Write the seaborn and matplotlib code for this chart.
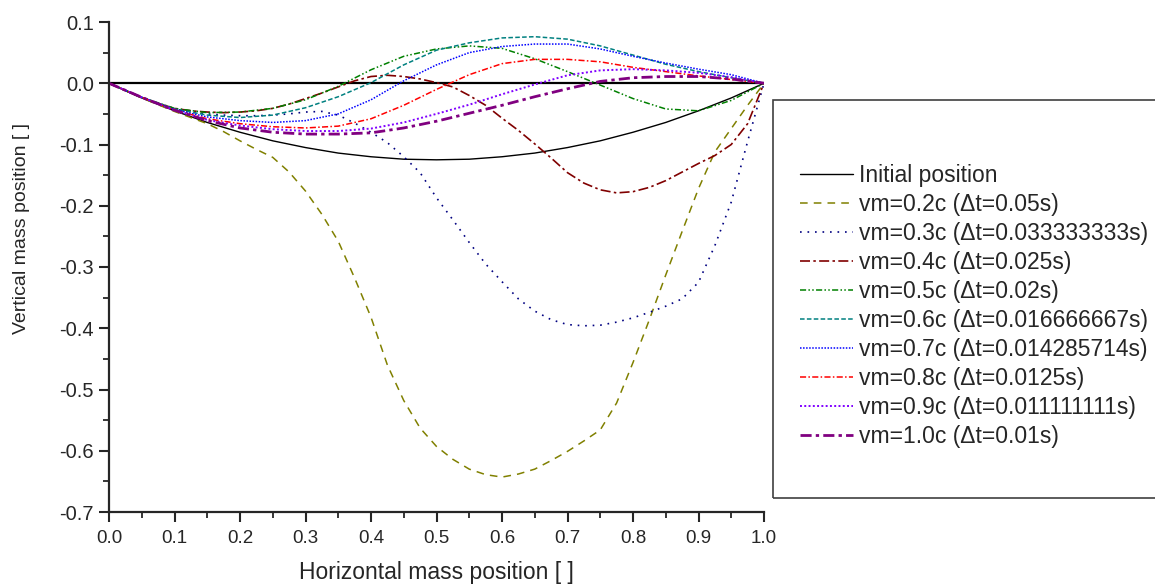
import numpy as np
import pandas as pd
import matplotlib
matplotlib.use("Agg")
import matplotlib.pyplot as plt
from matplotlib.patches import Rectangle
from matplotlib.ticker import MultipleLocator
import seaborn as sns

# ---------------- data ----------------
x_coarse = [0.00, 0.05, 0.10, 0.15, 0.20, 0.25, 0.30, 0.35, 0.40, 0.45, 0.50,
            0.55, 0.60, 0.65, 0.70, 0.75, 0.80, 0.85, 0.90, 0.95, 1.00]
x_fine = [0.000, 0.025, 0.050, 0.075, 0.100, 0.125, 0.150, 0.175, 0.200, 0.225,
          0.250, 0.275, 0.300, 0.325, 0.350, 0.375, 0.400, 0.425, 0.450, 0.475,
          0.500, 0.525, 0.550, 0.575, 0.600, 0.625, 0.650, 0.675, 0.700, 0.725,
          0.750, 0.775, 0.800, 0.825, 0.850, 0.875, 0.900, 0.925, 0.950, 0.975, 1.000]

y_initial = [0, -0.024, -0.045, -0.064, -0.080, -0.094, -0.105, -0.114, -0.120, -0.124, -0.125,
             -0.124, -0.120, -0.114, -0.105, -0.094, -0.080, -0.064, -0.045, -0.024, 0]

y_02 = [0, -0.012, -0.024, -0.035, -0.046, -0.056, -0.066, -0.079, -0.094, -0.108,
        -0.121, -0.145, -0.176, -0.214, -0.258, -0.318, -0.382, -0.460, -0.518, -0.563,
        -0.593, -0.614, -0.630, -0.639, -0.643, -0.638, -0.630, -0.616, -0.601, -0.584,
        -0.566, -0.522, -0.456, -0.386, -0.313, -0.242, -0.172, -0.112, -0.074, -0.036, 0]

y_03 = [0, -0.012, -0.023, -0.033, -0.042, -0.047, -0.050, -0.052, -0.053, -0.053,
        -0.052, -0.050, -0.047, -0.046, -0.052, -0.065, -0.080, -0.097, -0.120, -0.146,
        -0.187, -0.223, -0.260, -0.295, -0.324, -0.352, -0.372, -0.386, -0.394, -0.396,
        -0.395, -0.390, -0.383, -0.374, -0.364, -0.352, -0.325, -0.265, -0.194, -0.095, 0]

y_04 = [0, -0.012, -0.023, -0.033, -0.041, -0.045, -0.047, -0.048, -0.047, -0.045,
        -0.041, -0.034, -0.025, -0.016, -0.006, 0.004, 0.011, 0.013, 0.011, 0.007,
        0.001, -0.006, -0.020, -0.036, -0.057, -0.077, -0.099, -0.122, -0.146, -0.163,
        -0.174, -0.179, -0.177, -0.170, -0.159, -0.145, -0.131, -0.118, -0.100, -0.066, 0]

y_05 = [0, -0.023, -0.041, -0.048, -0.047, -0.041, -0.027, -0.005, 0.022, 0.044, 0.056,
        0.061, 0.057, 0.040, 0.019, -0.003, -0.025, -0.042, -0.045, -0.028, 0]

y_06 = [0, -0.023, -0.042, -0.052, -0.056, -0.052, -0.040, -0.022, 0.001, 0.030, 0.054,
        0.066, 0.074, 0.076, 0.072, 0.061, 0.046, 0.031, 0.019, 0.009, 0]

y_07 = [0, -0.023, -0.043, -0.055, -0.061, -0.064, -0.061, -0.050, -0.027, 0.004, 0.030,
        0.050, 0.060, 0.064, 0.064, 0.056, 0.044, 0.033, 0.023, 0.014, 0]

y_08 = [0, -0.023, -0.044, -0.058, -0.066, -0.071, -0.073, -0.070, -0.058, -0.036, -0.010,
        0.014, 0.032, 0.039, 0.039, 0.035, 0.026, 0.019, 0.012, 0.006, 0]

y_09 = [0, -0.023, -0.044, -0.060, -0.069, -0.075, -0.078, -0.078, -0.074, -0.064, -0.050,
        -0.035, -0.018, -0.002, 0.013, 0.021, 0.023, 0.021, 0.017, 0.010, 0]

y_10 = [0, -0.023, -0.044, -0.061, -0.073, -0.080, -0.083, -0.083, -0.081, -0.073, -0.062,
        -0.049, -0.036, -0.022, -0.009, 0.003, 0.009, 0.011, 0.011, 0.007, 0]

labels = ["Initial position",
          "vm=0.2c (\u0394t=0.05s)",
          "vm=0.3c (\u0394t=0.033333333s)",
          "vm=0.4c (\u0394t=0.025s)",
          "vm=0.5c (\u0394t=0.02s)",
          "vm=0.6c (\u0394t=0.016666667s)",
          "vm=0.7c (\u0394t=0.014285714s)",
          "vm=0.8c (\u0394t=0.0125s)",
          "vm=0.9c (\u0394t=0.011111111s)",
          "vm=1.0c (\u0394t=0.01s)"]

xticks = [0.0, 0.1, 0.2, 0.3, 0.4, 0.5, 0.6, 0.7, 0.8, 0.9, 1.0]
yticks = [-0.7, -0.6, -0.5, -0.4, -0.3, -0.2, -0.1, 0.0, 0.1]

series = [
    (x_coarse, y_initial),
    (x_fine, y_02),
    (x_fine, y_03),
    (x_fine, y_04),
    (x_coarse, y_05),
    (x_coarse, y_06),
    (x_coarse, y_07),
    (x_coarse, y_08),
    (x_coarse, y_09),
    (x_coarse, y_10),
]

# ---------------- styles ----------------
colors = ["black", "#808000", "#000080", "#800000", "#008000",
          "#008080", "#0000FF", "#FF0000", "#8000FF", "#800080"]
styles = ["-", (0, (5, 4)), (0, (1, 3.5)), (0, (6, 2, 1.5, 2)),
          (0, (4, 1.5, 1, 1.5, 1, 1.5)), (0, (3, 1.5)), (0, (1, 1)),
          (0, (4, 1.5, 1, 1.5)), (0, (1, 1.2)), (0, (4, 1.5, 1.2, 1.5))]
widths = [1.0, 1.1, 1.2, 1.2, 1.1, 1.1, 1.1, 1.1, 1.4, 2.0]

sns.set_style("ticks")
plt.rcParams["font.family"] = ["Liberation Sans", "DejaVu Sans"]

fig = plt.figure(figsize=(11.55, 5.86), dpi=100)
W, H = 1155, 586
ax = fig.add_axes([109 / W, 1 - 512 / H, 655 / W, (512 - 22) / H])

ax.axhline(0, color="black", lw=1.6, zorder=1)

for (xs, ys), lab, c, ls, lw in zip(series, labels, colors, styles, widths):
    df = pd.DataFrame({"x": xs, "y": ys})
    sns.lineplot(data=df, x="x", y="y", ax=ax, color=c, linestyle=ls,
                 linewidth=lw, label=lab, sort=False, zorder=2)

ax.set_xlim(0, 1)
ax.set_ylim(-0.7, 0.1)
ax.set_xticks(xticks)
ax.set_yticks(yticks)
ax.set_xticklabels([f"{v:.1f}" for v in xticks], fontsize=13.5)
ax.set_yticklabels([f"{v:.1f}" for v in yticks], fontsize=14.5)
ax.xaxis.set_minor_locator(MultipleLocator(0.05))
ax.yaxis.set_minor_locator(MultipleLocator(0.05))
ax.tick_params(which="major", direction="out", length=7, width=1.5)
ax.tick_params(axis="x", which="major", pad=6)
ax.tick_params(axis="y", which="major", pad=4)
ax.tick_params(which="minor", direction="out", length=4, width=1.3)
for s in ["top", "right"]:
    ax.spines[s].set_visible(False)
for s in ["left", "bottom"]:
    ax.spines[s].set_linewidth(1.6)
ax.set_xlabel("Horizontal mass position [ ]", fontsize=16.5)
ax.set_ylabel("Vertical mass position [ ]", fontsize=14)
ax.xaxis.set_label_coords(0.5, (512 - 572) / 490, transform=ax.transAxes)
ax.xaxis.label.set_va("center")
ax.yaxis.set_label_coords((22 - 109) / 655, (512 - 229) / 490, transform=ax.transAxes)
ax.yaxis.label.set_va("center")

handles, labs = ax.get_legend_handles_labels()
ax.get_legend().remove()

fig.patches.append(Rectangle((773 / W, 1 - 498 / H), (1170 - 773) / W, (498 - 100) / H,
                             transform=fig.transFigure, fill=False,
                             edgecolor="#404040", lw=1.2, zorder=0))

fig.legend(handles, labs, loc="upper left", bbox_to_anchor=(800 / W, 1 - 164 / H),
           frameon=False, fontsize=16.5, handlelength=2.3, handletextpad=0.27,
           labelspacing=0.26, borderpad=0, borderaxespad=0)

fig.savefig("out.png", dpi=100)
